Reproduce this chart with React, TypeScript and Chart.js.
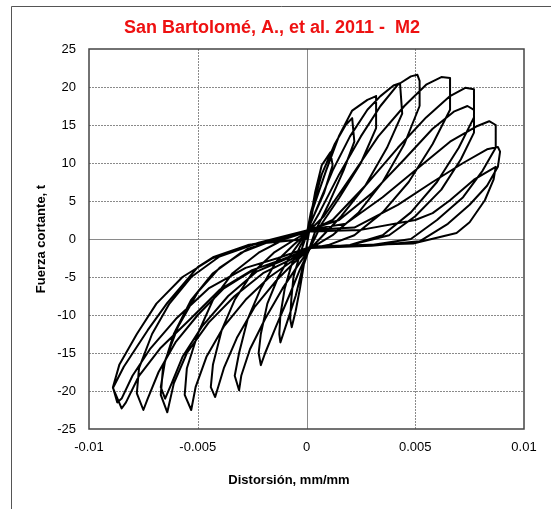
import React, { useEffect, useRef } from "react";
import { Chart, registerables } from "chart.js";

Chart.register(...registerables);

const titleText = "San Bartolomé, A., et al. 2011 -  M2";
const xTitle = "Distorsión, mm/mm";
const yTitle = "Fuerza cortante, t";
const xTicks = [-0.01, -0.005, 0, 0.005, 0.01];
const xTickLabels = ["-0.01", "-0.005", "0", "0.005", "0.01"];
const yTicks = [-25, -20, -15, -10, -5, 0, 5, 10, 15, 20, 25];

// hysteresis cycles: [drift mm/mm, shear force t]
const cycle1: number[][] = [
  [0, 0], [0.0002, 3], [0.0004, 6.2], [0.0007, 9.7], [0.0011, 11.4],
  [0.0012, 9.7], [0.0008, 6], [0.0002, 2.2], [0, -1],
  [-0.0001, -3], [-0.0003, -6.5], [-0.0005, -9.5], [-0.00068, -11.6], [-0.00075, -10.5],
  [-0.0007, -8], [-0.0006, -5], [-0.0003, -2], [0, 0.5],
];
const cycle2: number[][] = [
  [0.0002, 3.5], [0.0007, 8.5], [0.0013, 12.5], [0.0018, 15], [0.0021, 15.9],
  [0.0022, 12.8], [0.0017, 9], [0.001, 4.5], [0.0004, 1], [0.0001, -1.5],
  [-0.0002, -4], [-0.0005, -7.5], [-0.0009, -11], [-0.0012, -13.6], [-0.00125, -12.5],
  [-0.0012, -10], [-0.001, -6.5], [-0.0007, -3.5], [-0.0003, -1], [0.0001, 1],
];
const cycle3: number[][] = [
  [0.0003, 4], [0.0009, 9], [0.0015, 13.6], [0.0021, 16.9], [0.0028, 18.3], [0.0032, 18.8],
  [0.0032, 14.6], [0.0025, 10], [0.0015, 5.4], [0.0007, 2], [0.0002, -1],
  [-0.0003, -4], [-0.0008, -7.5], [-0.0014, -11.5], [-0.0019, -15], [-0.0021, -16.6], [-0.0022, -15],
  [-0.0021, -12.5], [-0.0018, -8.5], [-0.0013, -5], [-0.0007, -2], [0, 0.8],
];
const cycle4: number[][] = [
  [0.0004, 3.5], [0.0012, 9], [0.002, 13.5], [0.0028, 17], [0.0034, 18.8], [0.004, 20.2], [0.0043, 20.5],
  [0.0044, 16.5], [0.0037, 12], [0.0027, 7], [0.0016, 3], [0.0006, 0], [0.0001, -1.5],
  [-0.0004, -3.5], [-0.0011, -6.5], [-0.0019, -10.5], [-0.0026, -14.5], [-0.003, -18], [-0.0031, -19.9], [-0.0033, -18],
  [-0.0031, -15], [-0.0027, -10.5], [-0.0021, -6.5], [-0.0014, -3], [-0.0006, -0.8], [0.0001, 1],
];
const cycle5: number[][] = [
  [0.0006, 3.5], [0.0015, 8.5], [0.0025, 13.5], [0.0034, 17.5], [0.0042, 20.3], [0.0048, 21.4], [0.0051, 21.6], [0.0052, 20.8],
  [0.0052, 17.5], [0.0045, 12.5], [0.0035, 7.5], [0.0024, 3.5], [0.0012, 0.5], [0.0002, -1.2],
  [-0.0006, -3.2], [-0.0014, -5.5], [-0.0024, -9], [-0.0032, -13], [-0.0038, -17], [-0.0042, -20.8], [-0.0044, -19.5],
  [-0.0043, -16.5], [-0.0039, -12], [-0.0033, -8], [-0.0025, -4.5], [-0.0015, -1.8], [-0.0005, 0], [0.0001, 1],
];
const cycle6: number[][] = [
  [0.0008, 3], [0.002, 8], [0.0033, 13.5], [0.0045, 17.5], [0.0055, 20.3], [0.0062, 21.3], [0.0066, 21.2],
  [0.0066, 17], [0.0058, 12.5], [0.0047, 7.5], [0.0035, 3.5], [0.0022, 0.5], [0.001, -0.8], [0.0002, -1.2],
  [-0.0007, -3], [-0.0017, -5], [-0.0028, -8], [-0.0038, -11.5], [-0.0046, -15.5], [-0.0051, -19.5], [-0.0053, -22.5], [-0.0056, -20.5],
  [-0.0055, -17], [-0.005, -12.5], [-0.0043, -8], [-0.0034, -4.5], [-0.0022, -1.8], [-0.001, 0], [0.0001, 1],
];
const cycle7: number[][] = [
  [0.0012, 2.5], [0.0027, 7], [0.0042, 12], [0.0055, 16], [0.0066, 18.8], [0.0073, 19.9], [0.0077, 19.7],
  [0.0077, 16], [0.007, 12], [0.006, 7.5], [0.0048, 3.5], [0.0035, 0.5], [0.002, -0.8], [0.0002, -1.2],
  [-0.0008, -2.8], [-0.002, -4.5], [-0.0033, -7.5], [-0.0045, -11], [-0.0055, -15], [-0.0061, -19], [-0.0064, -22.8], [-0.0067, -20.5],
  [-0.0066, -17], [-0.0061, -12.5], [-0.0053, -8], [-0.0043, -4.5], [-0.003, -1.8], [-0.0014, 0], [0.0001, 1.2],
];
const cycle8: number[][] = [
  [0.0015, 2.5], [0.003, 6], [0.0045, 10.5], [0.0058, 14.5], [0.0068, 16.8], [0.0074, 17.5], [0.0077, 17],
  [0.0077, 14], [0.0071, 10.5], [0.0062, 6.5], [0.005, 3], [0.0038, 0.5], [0.002, -0.8], [0.0002, -1.2],
  [-0.001, -2.7], [-0.0023, -4.3], [-0.0036, -7.5], [-0.0048, -11.5], [-0.0057, -15.5], [-0.0062, -19], [-0.0065, -21], [-0.0067, -19.5],
  [-0.0065, -16], [-0.0059, -11.5], [-0.005, -7], [-0.004, -3.8], [-0.0027, -1.3], [-0.001, 0.3], [0.0001, 1.2],
];
const cycle9: number[][] = [
  [0.0018, 2], [0.0035, 5.5], [0.0052, 9.5], [0.0066, 12.8], [0.0078, 14.8], [0.0084, 15.5], [0.0087, 15],
  [0.0087, 12], [0.0081, 9], [0.0072, 5.5], [0.006, 2.5], [0.0048, 0], [0.003, -0.8], [0.0002, -1.2],
  [-0.0011, -2.7], [-0.0024, -4], [-0.0038, -6.5], [-0.005, -10], [-0.006, -13.5], [-0.0068, -17.5], [-0.0073, -21], [-0.0075, -22.5], [-0.0078, -20.3],
  [-0.0077, -17], [-0.0071, -12.5], [-0.0063, -8.5], [-0.0053, -5], [-0.004, -2.3], [-0.0022, -0.5], [0.0001, 1.2],
];
const cycle10: number[][] = [
  [0.0022, 1.5], [0.0042, 4.5], [0.0058, 7.5], [0.0072, 10], [0.0083, 11.8], [0.0088, 12.1], [0.0089, 11.5],
  [0.0088, 9.5], [0.0083, 7], [0.0075, 4.5], [0.0065, 2], [0.0052, -0.3], [0.003, -0.9], [0.0002, -1.2],
  [-0.0012, -2.8], [-0.0025, -4.1], [-0.004, -6.7], [-0.0054, -10.7], [-0.0067, -14.3], [-0.0077, -18], [-0.0083, -21.5], [-0.0085, -22.3], [-0.0089, -19.6],
  [-0.0084, -16.8], [-0.0073, -12], [-0.0064, -8.4], [-0.005, -3.7], [-0.0043, -2.4], [-0.0027, -0.8], [-0.0012, -0.1], [0.0001, 1],
];
const cycle11: number[][] = [
  [0.0025, 1.2], [0.005, 2.5], [0.0058, 3.4], [0.0066, 5.1], [0.0077, 7.8], [0.0087, 9.5],
  [0.0086, 7.8], [0.0082, 5.1], [0.0075, 2.2], [0.0069, 0.8], [0.0049, -0.6], [0.0002, -1],
  [-0.0013, -2.5], [-0.0028, -3.8], [-0.0045, -6.5], [-0.006, -10.5], [-0.0072, -14.5], [-0.008, -18], [-0.0085, -21], [-0.0087, -21.5], [-0.0089, -19.5],
  [-0.0086, -16.5], [-0.0078, -12.5], [-0.0069, -8.5], [-0.0057, -5], [-0.0043, -2.5], [-0.0025, -0.7], [0, 0],
];

const cycles = [cycle1, cycle2, cycle3, cycle4, cycle5, cycle6, cycle7, cycle8, cycle9, cycle10, cycle11];

const FONT = "'Liberation Sans', Arial, sans-serif";

const decorPlugin = {
  id: "decor",
  beforeDraw(chart: any) {
    const ctx = chart.ctx;
    ctx.save();
    ctx.fillStyle = "#ffffff";
    ctx.fillRect(0, 0, chart.width, chart.height);
    ctx.strokeStyle = "#555555";
    ctx.lineWidth = 1;
    ctx.beginPath();
    ctx.moveTo(11.5, chart.height);
    ctx.lineTo(11.5, 6.5);
    ctx.lineTo(chart.width, 6.5);
    ctx.stroke();
    ctx.fillStyle = "#ee1111";
    ctx.font = `bold 18px ${FONT}`;
    ctx.textAlign = "center";
    ctx.textBaseline = "middle";
    ctx.fillText(titleText, 272, 28);
    ctx.fillStyle = "#000000";
    ctx.font = `bold 13px ${FONT}`;
    ctx.fillText(xTitle, 289, 480);
    ctx.translate(41, 239);
    ctx.rotate(-Math.PI / 2);
    ctx.fillText(yTitle, 0, 0);
    ctx.restore();
  },
  beforeDatasetsDraw(chart: any) {
    const ctx = chart.ctx;
    const { left, right, top, bottom } = chart.chartArea;
    const xs = chart.scales.x;
    const ys = chart.scales.y;
    ctx.save();
    ctx.lineWidth = 1;
    ctx.strokeStyle = "#8a8a8a";
    for (const v of xTicks) {
      if (v === xTicks[0] || v === xTicks[xTicks.length - 1]) continue;
      const px = Math.round(xs.getPixelForValue(v)) + 0.5;
      ctx.setLineDash(v === 0 ? [] : [2, 1]);
      ctx.beginPath();
      ctx.moveTo(px, top);
      ctx.lineTo(px, bottom);
      ctx.stroke();
    }
    for (const v of yTicks) {
      if (v === yTicks[0] || v === yTicks[yTicks.length - 1]) continue;
      const py = Math.round(ys.getPixelForValue(v)) + 0.5;
      ctx.setLineDash(v === 0 ? [] : [2, 1]);
      ctx.beginPath();
      ctx.moveTo(left, py);
      ctx.lineTo(right, py);
      ctx.stroke();
    }
    ctx.restore();
  },
  afterDatasetsDraw(chart: any) {
    const ctx = chart.ctx;
    const { left, right, top, bottom } = chart.chartArea;
    ctx.save();
    ctx.strokeStyle = "#444444";
    ctx.lineWidth = 1.5;
    ctx.strokeRect(left, top, right - left, bottom - top);
    ctx.restore();
  },
};

export default function App() {
  const canvasRef = useRef<HTMLCanvasElement | null>(null);

  useEffect(() => {
    const canvas = canvasRef.current;
    if (!canvas) return;
    const points: { x: number; y: number }[] = [];
    for (const c of cycles) for (const p of c) points.push({ x: p[0], y: p[1] });

    const chart = new Chart(canvas, {
      type: "scatter",
      data: {
        datasets: [
          {
            data: points,
            showLine: true,
            borderColor: "#000000",
            borderWidth: 2,
            pointRadius: 0,
            tension: 0,
            borderJoinStyle: "round",
          } as any,
        ],
      },
      options: {
        animation: false,
        responsive: false,
        devicePixelRatio: 1,
        layout: { padding: { top: 49, right: 27, bottom: 0, left: 0 } },
        plugins: { legend: { display: false }, tooltip: { enabled: false }, title: { display: false } },
        scales: {
          x: {
            type: "linear",
            min: -0.01,
            max: 0.01,
            afterBuildTicks: (s: any) => {
              s.ticks = xTicks.map((v) => ({ value: v }));
            },
            afterFit: (s: any) => {
              s.height = 80;
            },
            ticks: {
              color: "#000",
              font: { family: FONT, size: 13 },
              padding: 11,
              maxRotation: 0,
              callback: (v: any) => {
                const i = xTicks.findIndex((t) => Math.abs(t - v) < 1e-9);
                return i >= 0 ? xTickLabels[i] : "";
              },
            },
            grid: { display: false, drawTicks: false },
            border: { display: false },
          },
          y: {
            type: "linear",
            min: -25,
            max: 25,
            afterBuildTicks: (s: any) => {
              s.ticks = yTicks.map((v) => ({ value: v }));
            },
            afterFit: (s: any) => {
              s.width = 89;
            },
            ticks: {
              color: "#000",
              font: { family: FONT, size: 13 },
              padding: 13,
              callback: (v: any) => String(v),
            },
            grid: { display: false, drawTicks: false },
            border: { display: false },
          },
        },
      },
      plugins: [decorPlugin],
    });
    return () => chart.destroy();
  }, []);

  return (
    <div style={{ position: "absolute", left: 0, top: 0, width: 551, height: 509, background: "#fff" }}>
      <canvas ref={canvasRef} width={551} height={509} style={{ display: "block" }} />
    </div>
  );
}
